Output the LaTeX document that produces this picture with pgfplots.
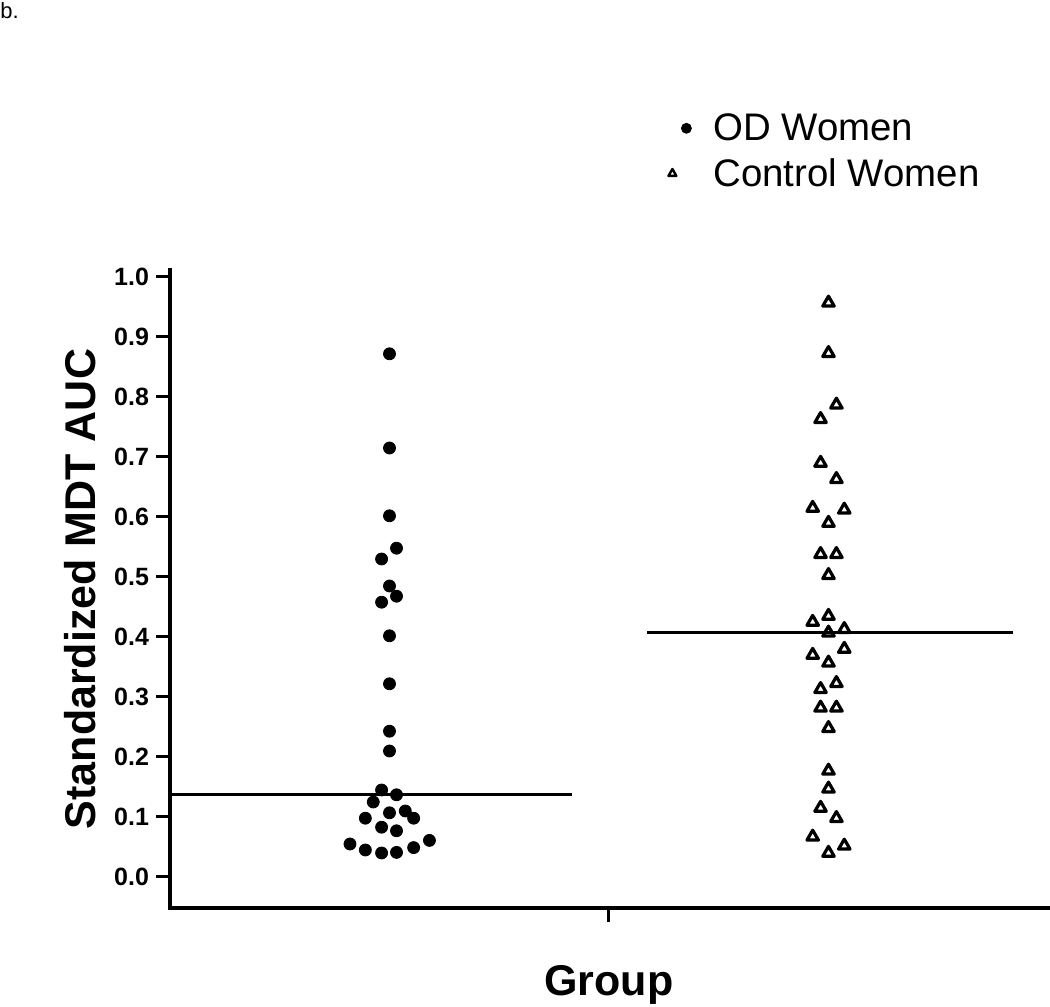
\documentclass[border=0pt]{standalone}
\usepackage{fontspec}
\setmainfont{Liberation Sans}
\usepackage{pgfplots}
\pgfplotsset{compat=1.18}
\begin{document}
\begin{tikzpicture}
\path[use as bounding box] (-85pt,-49.5pt) rectangle (440pt,454pt);
\node[anchor=north west, inner sep=0pt, font=\fontsize{11}{13}\selectfont] at (-85pt,453pt) {b.};
\begin{axis}[
  at={(0,0)}, anchor=south west,
  scale only axis, width=439pt, height=319pt,
  xmin=0, xmax=2, ymin=-0.05167, ymax=1.01167,
  axis lines=left,
  axis line style={-, line width=2pt, line cap=rect},
  clip=false,
  xtick={1}, xticklabels={},
  ytick={0,0.1,...,1.0},
  yticklabel style={/pgf/number format/fixed, /pgf/number format/fixed zerofill, /pgf/number format/precision=1},
  /pgf/number format/assume math mode=true,
  tick label style={font=\bfseries\fontsize{12.5}{15}\selectfont},
  tick align=outside,
  major tick length=7pt,
  every tick/.style={line width=1.5pt, black},
  xlabel={Group},
  ylabel={Standardized MDT AUC},
  every axis x label/.style={at={(axis description cs:0.5,-0.1207)}, anchor=center, font=\bfseries\fontsize{21.5}{24}\selectfont},
  every axis y label/.style={at={(axis description cs:-0.1025,0.5)}, rotate=90, anchor=center, font=\bfseries\fontsize{21.5}{24}\selectfont},
  legend style={at={(axis description cs:0.5604,1.2586)}, anchor=north west, draw=none, fill=none,
    font=\fontsize{19.2}{22}\selectfont, row sep=3.5pt, column sep=9pt},
  legend cell align=left,
]
\addplot[only marks, mark=*, mark size=3pt, black, legend image post style={mark size=2.5pt, xshift=3.5pt}] coordinates {
(0.5,0.872) (0.5,0.715) (0.5,0.602) (0.516,0.548) (0.482,0.530) (0.5,0.485)
(0.516,0.468) (0.482,0.458) (0.5,0.402) (0.5,0.322) (0.5,0.243) (0.5,0.210)
(0.482,0.145) (0.516,0.137) (0.463,0.125) (0.5,0.107) (0.536,0.110) (0.445,0.098)
(0.555,0.098) (0.482,0.083) (0.516,0.077) (0.410,0.055) (0.445,0.045) (0.482,0.040)
(0.516,0.041) (0.555,0.049) (0.591,0.061)
};
\addlegendentry{OD Women}
\addplot[only marks, mark=triangle, mark size=3.3pt, black, line width=1.6pt, line join=round,
  mark options={fill=white}, legend image post style={mark size=2.3pt, line width=1.2pt, xshift=-3.5pt}] coordinates {
(1.5,0.957) (1.5,0.873) (1.518,0.787) (1.482,0.763) (1.482,0.690) (1.518,0.663)
(1.464,0.615) (1.536,0.612) (1.5,0.590) (1.482,0.538) (1.518,0.538) (1.5,0.503)
(1.5,0.435) (1.464,0.425) (1.536,0.413) (1.5,0.407) (1.536,0.380) (1.464,0.370)
(1.5,0.357) (1.518,0.323) (1.482,0.313) (1.482,0.282) (1.518,0.282) (1.5,0.248)
(1.5,0.177) (1.5,0.147) (1.482,0.115) (1.518,0.098) (1.464,0.067) (1.536,0.052)
(1.5,0.040)
};
\addlegendentry{Control Women}
\addplot[black, line width=1.5pt, forget plot] coordinates {(0,0.137) (0.916,0.137)};
\addplot[black, line width=1.5pt, forget plot] coordinates {(1.087,0.408) (1.92,0.408)};
\end{axis}
\end{tikzpicture}
\end{document}
